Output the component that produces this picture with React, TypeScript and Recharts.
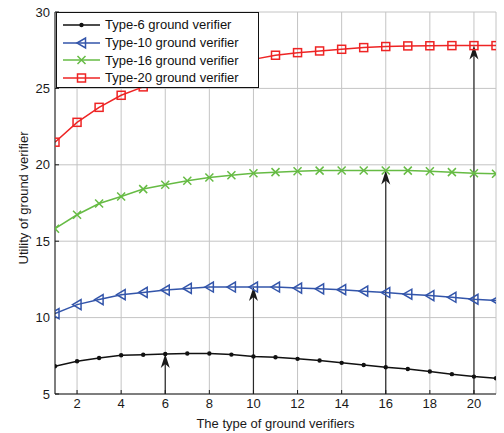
import { LineChart, Line, XAxis, YAxis, CartesianGrid, Legend, ReferenceLine } from 'recharts'

const types = [1, 2, 3, 4, 5, 6, 7, 8, 9, 10, 11, 12, 13, 14, 15, 16, 17, 18, 19, 20, 21]
const type6Utility = [6.82, 7.14, 7.36, 7.54, 7.57, 7.62, 7.65, 7.65, 7.58, 7.46, 7.41, 7.3, 7.19, 7.04, 6.9, 6.75, 6.64, 6.47, 6.3, 6.14, 6.03]
const type10Utility = [10.26, 10.85, 11.18, 11.5, 11.65, 11.8, 11.91, 12.0, 12.0, 12.0, 12.0, 11.93, 11.88, 11.83, 11.73, 11.64, 11.53, 11.44, 11.33, 11.2, 11.12]
const type16Utility = [15.82, 16.73, 17.47, 17.93, 18.41, 18.69, 18.95, 19.17, 19.32, 19.45, 19.52, 19.58, 19.62, 19.63, 19.63, 19.63, 19.62, 19.58, 19.52, 19.45, 19.41]
const type20Utility = [21.48, 22.78, 23.76, 24.55, 25.1, 25.55, 25.95, 26.3, 26.6, 26.9, 27.17, 27.34, 27.45, 27.56, 27.67, 27.74, 27.78, 27.79, 27.8, 27.8, 27.8]

const xTicks = [2, 4, 6, 8, 10, 12, 14, 16, 18, 20]
const yTicks = [5, 10, 15, 20, 25, 30]

// optimal type marked by an arrow for each ground verifier
const arrowTypes = [6, 10, 16, 20]
const arrowSeries = [type6Utility, type10Utility, type16Utility, type20Utility]

type MarkerKind = 'dot' | 'triangle' | 'cross' | 'square'

const series: { key: string; name: string; color: string; marker: MarkerKind }[] = [
  { key: 't6', name: 'Type-6 ground verifier', color: '#111111', marker: 'dot' },
  { key: 't10', name: 'Type-10 ground verifier', color: '#3355aa', marker: 'triangle' },
  { key: 't16', name: 'Type-16 ground verifier', color: '#66bb44', marker: 'cross' },
  { key: 't20', name: 'Type-20 ground verifier', color: '#ee2424', marker: 'square' },
]

const data = types.map((t, i) => ({
  type: t,
  t6: type6Utility[i],
  t10: type10Utility[i],
  t16: type16Utility[i],
  t20: type20Utility[i],
}))

const FONT = 'Arial, "Liberation Sans", Helvetica, sans-serif'
const AXIS = '#1a1a1a'

function Marker({ kind, cx, cy, color }: { kind: MarkerKind; cx: number; cy: number; color: string }) {
  switch (kind) {
    case 'dot':
      return <circle cx={cx} cy={cy} r={2.2} fill={color} />
    case 'triangle':
      return (
        <polygon
          points={`${cx - 4.5},${cy} ${cx + 4},${cy - 5} ${cx + 4},${cy + 5}`}
          fill="none"
          stroke={color}
          strokeWidth={1.5}
        />
      )
    case 'cross':
      return (
        <path
          d={`M${cx - 4},${cy - 4}L${cx + 4},${cy + 4}M${cx - 4},${cy + 4}L${cx + 4},${cy - 4}`}
          stroke={color}
          strokeWidth={1.5}
        />
      )
    default:
      return <rect x={cx - 4} y={cy - 4} width={8} height={8} fill="none" stroke={color} strokeWidth={1.5} />
  }
}

function ArrowShape(props: any) {
  const { x1, y1, x2, y2 } = props
  if (x1 == null) return null
  const tipY = Math.min(y1, y2)
  const baseY = Math.max(y1, y2)
  const x = x2
  return (
    <g>
      <line x1={x} y1={baseY} x2={x} y2={tipY + 8} stroke="#2a2a2a" strokeWidth={1.2} />
      <path
        d={`M${x},${tipY} L${x - 4.5},${tipY + 14} L${x},${tipY + 10} L${x + 4.5},${tipY + 14} Z`}
        fill="#1a1a1a"
      />
    </g>
  )
}

function LegendBox() {
  return (
    <div
      style={{
        width: 203,
        height: 76,
        boxSizing: 'border-box',
        border: '1px solid #111',
        background: '#fff',
        paddingTop: 3,
        paddingLeft: 6,
        fontFamily: FONT,
        fontSize: 13,
        color: '#111',
      }}
    >
      {series.map((s) => (
        <div key={s.key} style={{ display: 'flex', alignItems: 'center', height: 17.7 }}>
          <svg width={37} height={14} style={{ overflow: 'visible' }}>
            <line x1={0} y1={7} x2={37} y2={7} stroke={s.color} strokeWidth={1.5} />
            <Marker kind={s.marker} cx={18.5} cy={7} color={s.color} />
          </svg>
          <span style={{ marginLeft: 5, whiteSpace: 'nowrap' }}>{s.name}</span>
        </div>
      ))}
    </div>
  )
}

export default function App() {
  return (
    <div style={{ position: 'absolute', left: 0, top: 0, background: '#fff' }}>
      <LineChart
        width={504}
        height={433}
        data={data}
        margin={{ top: 12, right: 8, left: 0, bottom: 0 }}
        style={{ fontFamily: FONT }}
      >
        <CartesianGrid stroke="#c4c4c4" strokeWidth={1} />
        <XAxis
          dataKey="type"
          type="number"
          domain={[1, 21]}
          ticks={xTicks}
          allowDataOverflow
          height={39}
          stroke={AXIS}
          tickSize={-4}
          tickMargin={9}
          tick={{ fontSize: 13, fill: '#1a1a1a' }}
          label={{ value: 'The type of ground verifiers', position: 'insideBottom', offset: 5, fontSize: 13, fill: '#1a1a1a' }}
        />
        <XAxis
          xAxisId="top"
          orientation="top"
          type="number"
          domain={[1, 21]}
          ticks={xTicks}
          height={0}
          stroke={AXIS}
          tickSize={-4}
          tickFormatter={() => ''}
        />
        <YAxis
          type="number"
          domain={[5, 30]}
          ticks={yTicks}
          width={55}
          stroke={AXIS}
          tickSize={-4}
          tickMargin={9}
          tick={{ fontSize: 13, fill: '#1a1a1a' }}
          label={{
            content: (p: any) => {
              const vb = p.viewBox || { x: 0, y: 12, width: 55, height: 382 }
              const cx = vb.x + 23
              const cy = vb.y + vb.height / 2 - 5
              return (
                <text
                  x={cx}
                  y={cy}
                  transform={`rotate(-90 ${cx} ${cy})`}
                  textAnchor="middle"
                  dominantBaseline="central"
                  fontSize={13}
                  fill="#1a1a1a"
                  fontFamily={FONT}
                >
                  Utility of ground verifier
                </text>
              )
            },
          }}
        />
        <YAxis
          yAxisId="right"
          orientation="right"
          type="number"
          domain={[5, 30]}
          ticks={yTicks}
          width={0}
          stroke={AXIS}
          tickSize={-4}
          tickFormatter={() => ''}
        />
        {arrowTypes.map((t, i) => (
          <ReferenceLine
            key={t}
            segment={[
              { x: t, y: 5 },
              { x: t, y: arrowSeries[i][types.indexOf(t)] },
            ]}
            shape={ArrowShape}
          />
        ))}
        {series.map((s) => (
          <Line
            key={s.key}
            type="linear"
            dataKey={s.key}
            name={s.name}
            stroke={s.color}
            strokeWidth={1.5}
            isAnimationActive={false}
            dot={(p: any) => <Marker key={`${s.key}-${p.index}`} kind={s.marker} cx={p.cx} cy={p.cy} color={s.color} />}
            activeDot={false}
          />
        ))}
        <Legend
          layout="horizontal"
          verticalAlign="middle"
          align="center"
          wrapperStyle={{ left: 56, top: 12, width: 203, height: 76 }}
          content={() => <LegendBox />}
        />
      </LineChart>
    </div>
  )
}
